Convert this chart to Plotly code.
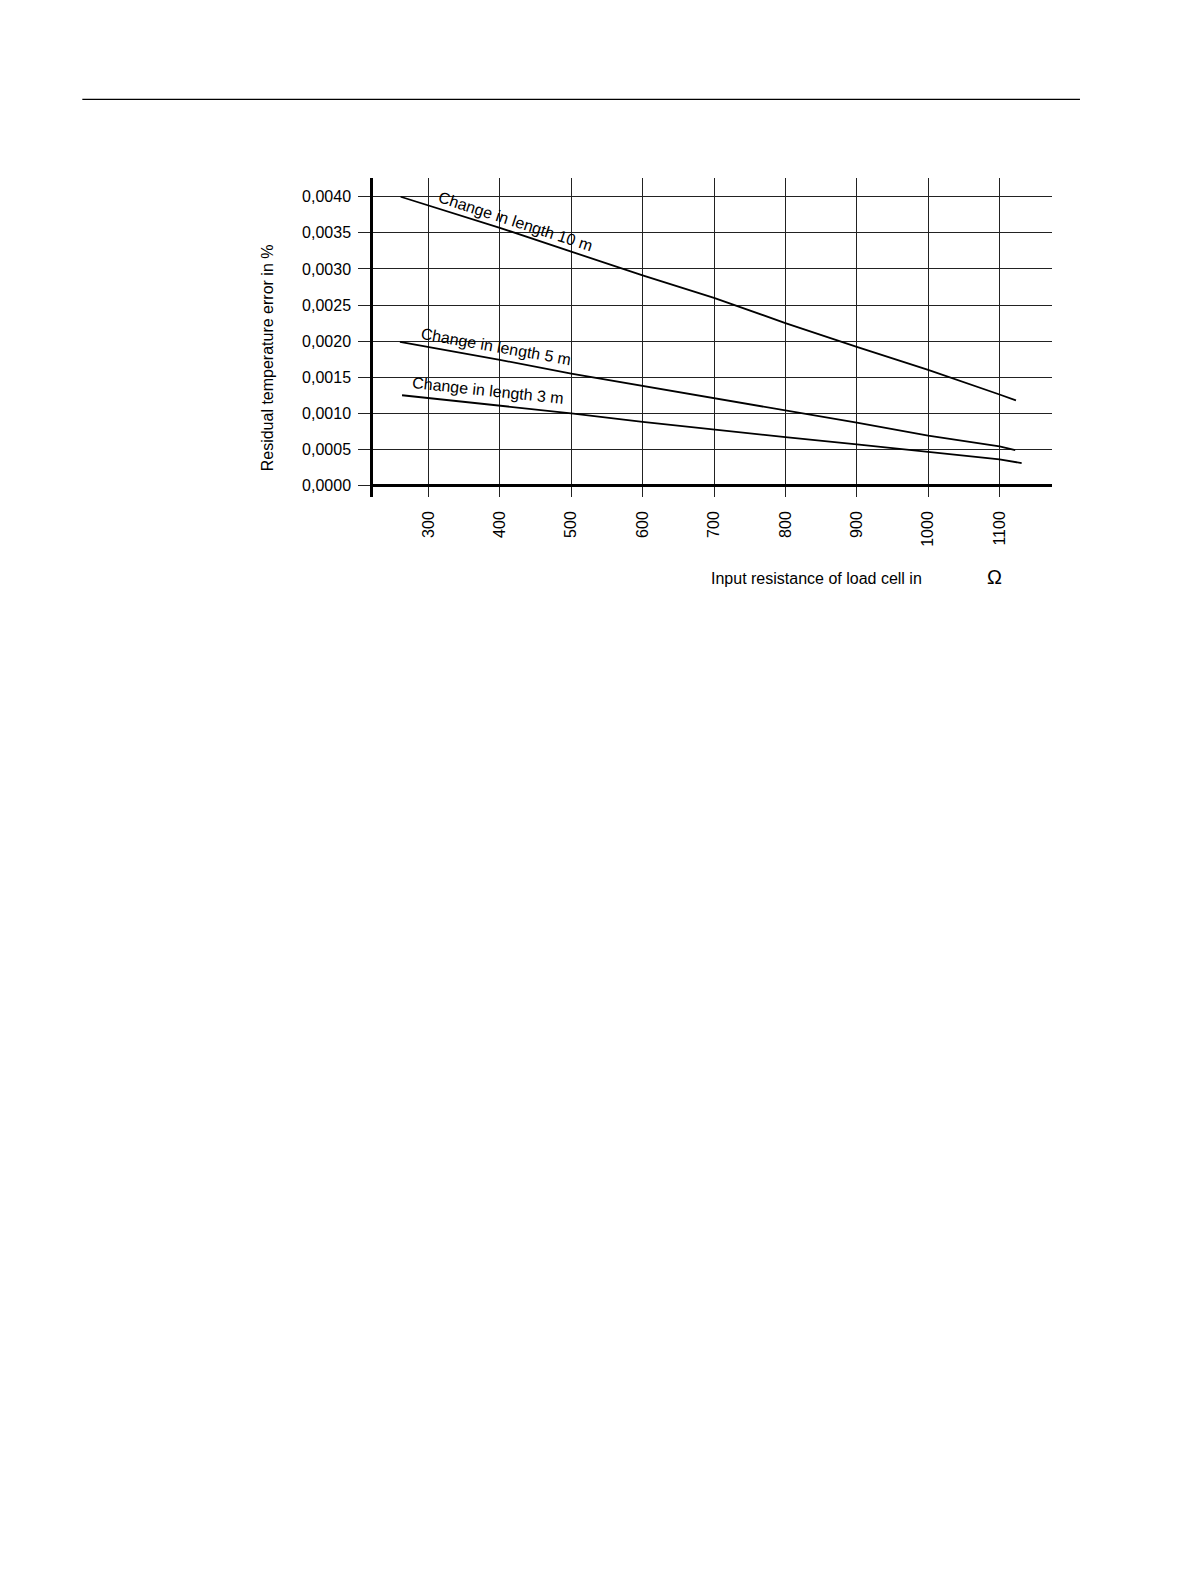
import plotly.graph_objects as go

# input resistance (ohm) and residual error (%)
x_10m = [261, 300, 400, 500, 600, 700, 800, 900, 1000, 1100, 1123]
y_10m = [0.00400, 0.00388, 0.00357, 0.00324, 0.00291, 0.00260, 0.00225, 0.00192, 0.00160, 0.00126, 0.00118]

x_5m = [260, 300, 400, 500, 600, 700, 800, 900, 1000, 1100, 1122]
y_5m = [0.00199, 0.00192, 0.00174, 0.00155, 0.00138, 0.00122, 0.00105, 0.00087, 0.00069, 0.00054, 0.00049]

x_3m = [263, 300, 400, 500, 600, 700, 800, 900, 1000, 1100, 1131]
y_3m = [0.00125, 0.00121, 0.00111, 0.00100, 0.00088, 0.00077, 0.00067, 0.00057, 0.00046, 0.00036, 0.00031]

x_ticks = [300, 400, 500, 600, 700, 800, 900, 1000, 1100]
y_ticks = [0.0, 0.0005, 0.0010, 0.0015, 0.0020, 0.0025, 0.0030, 0.0035, 0.0040]
y_ticktext = ["0,0000", "0,0005", "0,0010", "0,0015", "0,0020", "0,0025", "0,0030", "0,0035", "0,0040"]

FONT = "Liberation Sans, Arial, sans-serif"
GRID = "#222222"

fig = go.Figure()
for xs, ys in [(x_10m, y_10m), (x_5m, y_5m), (x_3m, y_3m)]:
    fig.add_trace(go.Scatter(x=xs, y=ys, mode="lines",
                             line=dict(color="black", width=1.8),
                             showlegend=False, hoverinfo="skip"))

# curve labels, rotated along the lines
labels = [
    ("Change in length 10 m", 422, 0.00366, 18),
    ("Change in length 5 m", 394, 0.00193, 10),
    ("Change in length 3 m", 383, 0.00132, 6),
]
for txt, lx, ly, ang in labels:
    fig.add_annotation(x=lx, y=ly, text=txt, showarrow=False, textangle=ang,
                       xanchor="center", yanchor="middle",
                       font=dict(size=16, color="black", family=FONT))

# axis titles
fig.add_annotation(xref="paper", yref="paper", x=-0.1561, y=0.4348,
                   text="Residual temperature error in %", textangle=-90,
                   xanchor="center", yanchor="middle", showarrow=False,
                   font=dict(size=16, color="black", family=FONT))
fig.add_annotation(xref="paper", yref="paper", x=0.6535, y=-0.254,
                   text="Input resistance of load cell in",
                   xanchor="center", yanchor="middle", showarrow=False,
                   font=dict(size=16, color="black", family=FONT))
fig.add_annotation(xref="paper", yref="paper", x=0.9157, y=-0.2508,
                   text="Ω", xanchor="center", yanchor="middle", showarrow=False,
                   font=dict(size=20, color="black", family=FONT))

# page rule at the top
fig.add_shape(type="line", xref="paper", yref="paper",
              x0=-0.4281, x1=1.0412, y0=1.2467, y1=1.2467,
              line=dict(color="black", width=1.3))

fig.update_xaxes(range=[222.3, 1173.5], tickvals=x_ticks, tickangle=-90,
                 showgrid=True, gridcolor=GRID, gridwidth=1.3,
                 showline=False, zeroline=False, ticks="",
                 ticklabelstandoff=10,
                 tickfont=dict(size=16, color="black", family=FONT))
fig.update_yaxes(range=[-0.00016, 0.00426], tickvals=y_ticks, ticktext=y_ticktext,
                 showgrid=True, gridcolor=GRID, gridwidth=1.3,
                 showline=True, linecolor="black", linewidth=2.5,
                 zeroline=True, zerolinecolor="black", zerolinewidth=2.5,
                 ticks="outside", ticklen=12, tickwidth=1.3, tickcolor=GRID,
                 ticklabelstandoff=4,
                 tickfont=dict(size=16, color="black", family=FONT))

fig.update_layout(width=1175, height=1560,
                  margin=dict(l=365, r=131, t=170, b=1071),
                  paper_bgcolor="white", plot_bgcolor="white",
                  font=dict(family=FONT, color="black"))

fig.write_html("out.html")
